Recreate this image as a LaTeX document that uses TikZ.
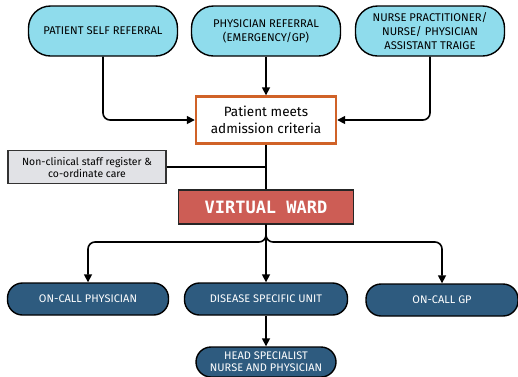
\documentclass[tikz,border=0pt]{standalone}
\usepackage{fontspec}
\setmainfont{Fira Sans}
\newfontfamily\wardfont{DejaVu Sans Mono}
\usetikzlibrary{arrows.meta, positioning, calc}

\definecolor{pilllight}{HTML}{8FDCEC}
\definecolor{pilldark}{HTML}{2E5B7F}
\definecolor{wardred}{HTML}{CD5D55}
\definecolor{admorange}{HTML}{D06228}
\definecolor{staffgray}{HTML}{E1E2E6}

\begin{document}
\begin{tikzpicture}[x=1pt, y=-1pt,
    toppill/.style={draw=black, line width=1.4pt, fill=pilllight,
        rounded corners=22pt, minimum width=149pt, minimum height=50pt,
        inner sep=1pt, align=center, font=\fontsize{11.2}{14}\selectfont},
    lowpill/.style={draw=black, line width=1.4pt, fill=pilldark, text=white,
        rounded corners=15pt, minimum width=161pt, minimum height=32pt,
        inner sep=1pt, align=center, font=\fontsize{11}{12}\selectfont},
    conn/.style={line width=1.6pt, -{Triangle[length=8pt, width=8pt]}},
    link/.style={line width=1.6pt}]
    \useasboundingbox (0,0) rectangle (518,376);

    \coordinate (P1) at (103, 31);
    \coordinate (P2) at (266, 31);
    \coordinate (P3) at (430, 31);
    \coordinate (A) at (266, 120);
    \coordinate (S) at (87, 167);
    \coordinate (W) at (266, 207);
    \coordinate (B1) at (88, 299);
    \coordinate (B2) at (266, 299);
    \coordinate (B3) at (442, 300);
    \coordinate (B4) at (266, 362);
    \coordinate (fork) at (266, 242);

    \node[toppill] (self) at (P1) {PATIENT SELF REFERRAL};
    \node[toppill] (phys) at (P2) {PHYSICIAN REFERRAL\\(EMERGENCY/GP)};
    \node[toppill] (nurse) at (P3) {NURSE PRACTITIONER/\\NURSE/ PHYSICIAN\\ASSISTANT TRAIGE};

    \node[draw=admorange, line width=2.4pt, fill=white, minimum width=140pt,
        minimum height=47pt, inner sep=1pt, align=center,
        font=\fontsize{13.5}{17}\selectfont] (adm) at (A)
        {Patient meets\\admission criteria};
    \node[draw=black!80, line width=1.2pt, fill=staffgray, minimum width=158pt,
        minimum height=33pt, inner sep=1pt, align=center,
        font=\fontsize{10.4}{12}\selectfont] (staff) at (S)
        {Non-clinical staff register \&\\co-ordinate care};
    \node[draw=black!85, line width=1.4pt, fill=wardred, text=white,
        minimum width=175pt, minimum height=34pt,
        font=\wardfont\bfseries\fontsize{17}{19}\selectfont] (ward) at (W)
        {VIRTUAL WARD};

    \node[lowpill] (oncall) at (B1) {ON-CALL PHYSICIAN};
    \node[lowpill, minimum width=163pt] (unit) at (B2) {DISEASE SPECIFIC UNIT};
    \node[lowpill, minimum width=152pt] (gp) at (B3) {ON-CALL GP};
    \node[lowpill, minimum width=140pt, minimum height=30pt] (head) at (B4)
        {HEAD SPECIALIST\\NURSE AND PHYSICIAN};

    \draw[conn, rounded corners=7pt] (self.south) |- (adm.west);
    \draw[conn] (phys.south) -- (adm.north);
    \draw[conn, rounded corners=7pt] (nurse.south) |- (adm.east);
    \draw[link] (adm.south) -- (ward.north);
    \draw[link] (staff.east) -- (staff.east -| adm.south);

    \draw[conn, rounded corners=7pt] (ward.south) -- (fork) -| (oncall.north);
    \draw[conn, rounded corners=7pt] (ward.south) -- (fork) -| (gp.north);
    \draw[conn] (ward.south) -- (unit.north);
    \draw[conn] (unit.south) -- (head.north);
\end{tikzpicture}
\end{document}
